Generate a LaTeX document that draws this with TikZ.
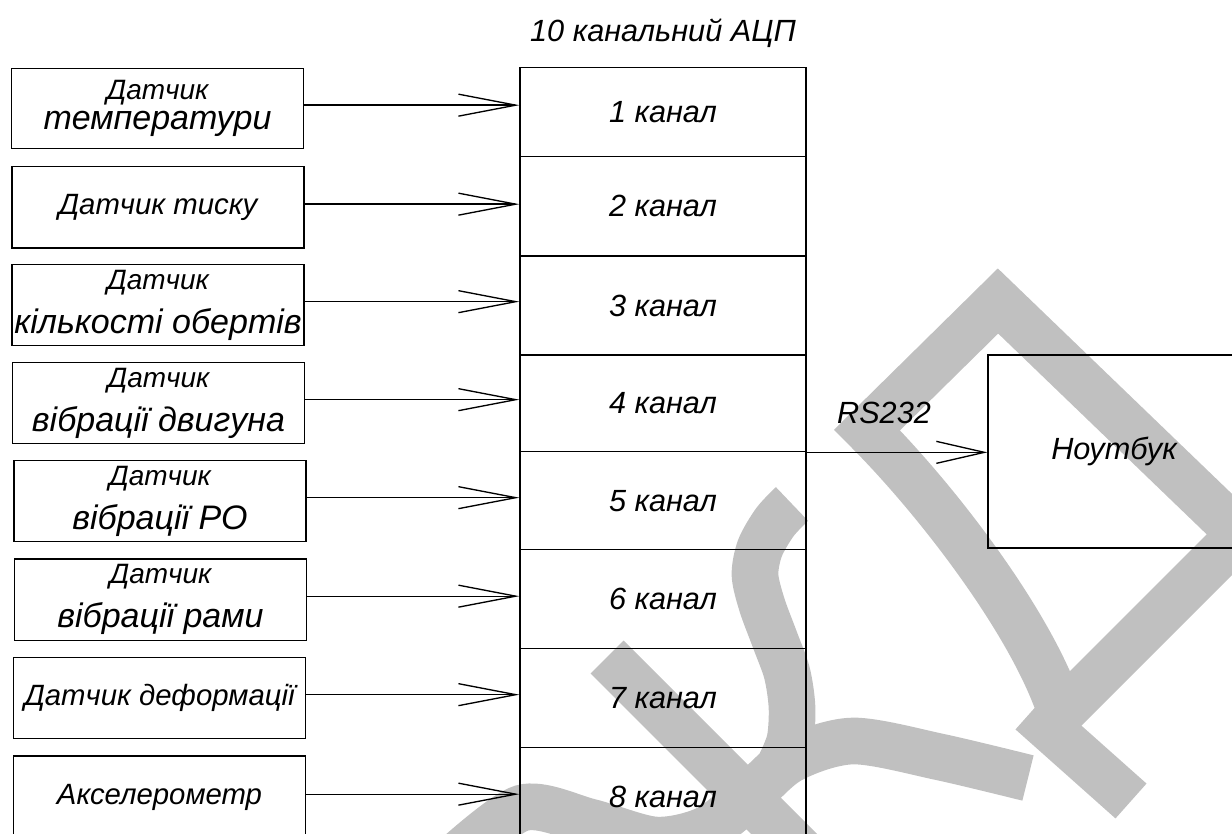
\documentclass[tikz,border=0pt]{standalone}
\usepackage{fontspec}
\setmainfont{Liberation Sans}
\usetikzlibrary{arrows.meta}
\definecolor{wmgray}{RGB}{192,192,192}
% two-line sensor caption: smaller first word, larger second line
\newcommand\sensortwo[3][33pt]{{\fontsize{21}{#1}\selectfont #2}\\{\fontsize{25.5}{#1}\selectfont #3}}
\begin{document}
\begin{tikzpicture}[x=0.75pt,y=-0.75pt,
  every node/.style={font=\itshape\fontsize{23}{24}\selectfont},
  sensor/.style={draw,line width=1pt,minimum width=219pt,minimum height=61pt,
    align=center,inner sep=0pt,font=\itshape\fontsize{22}{33}\selectfont},
  cell/.style={draw,line width=1pt,minimum width=214.5pt,inner sep=0pt},
  feed/.style={line width=1pt,-{Straight Barb[length=43pt,width=16.5pt]}},
  link/.style={line width=1pt,-{Straight Barb[length=36pt,width=16.5pt]}},
  wm/.style={draw=wmgray,line width=35pt}]
\useasboundingbox (0,0) rectangle (1232,834);
\clip (0,0) rectangle (1232,834);

% grey strokes in the background
\draw[wm,line join=miter] (1053,721) -- (1240,534) -- (998,301) -- (867,430)
  .. controls (937,500) and (1035,627) .. (1062,716);
\draw[wm] (1031,712) -- (1131,801);
\draw[wm] plot[smooth] coordinates {(792,504) (775,522) (760,548) (755,575)
  (762,605) (775,640) (787,673) (792,707) (790,740) (780,765)};
\draw[wm] plot[smooth] coordinates {(450,862) (522,808) (590,822) (655,840)
  (705,830) (745,800) (790,760) (853,741) (940,757) (1028,778)};
\draw[wm] (607,657) -- (830,880);

% title
\node (title) at (663,33) {10 канальний АЦП};

% sensors
\node[sensor,minimum height=60pt,font=\itshape\fontsize{22}{23}\selectfont] (s1) at (157.5,108.5)
  {\sensortwo[23pt]{Датчик}{температури}};
\node[sensor] (s2) at (158,207.5) {Датчик тиску};
\node[sensor] (s3) at (158,305) {\sensortwo{Датчик}{кількості обертів}};
\node[sensor] (s4) at (158.5,403) {\sensortwo{Датчик}{вібрації двигуна}};
\node[sensor] (s5) at (160,501) {\sensortwo{Датчик}{вібрації РО}};
\node[sensor] (s6) at (160.5,599.5) {\sensortwo{Датчик}{вібрації рами}};
\node[sensor] (s7) at (159.5,698) {Датчик деформації};
\node[sensor,minimum height=62.25pt] (s8) at (159.5,797.5) {Акселерометр};

% ADC channels
\node[cell,minimum height=66.75pt] (c1) at (663,112.2) {1 канал};
\node[cell,minimum height=74.5pt] (c2) at (663,206.35) {2 канал};
\node[cell,minimum height=74.25pt] (c3) at (663,305.5) {3 канал};
\node[cell,minimum height=72.5pt] (c4) at (663,403.35) {4 канал};
\node[cell,minimum height=73.35pt] (c5) at (663,500.6) {5 канал};
\node[cell,minimum height=74.1pt] (c6) at (663,598.9) {6 канал};
\node[cell,minimum height=74.25pt] (c7) at (663,697.8) {7 канал};
\node[cell,minimum height=74pt] (c8) at (663,796.65) {8 канал};

% laptop
\node[draw,line width=1pt,minimum width=189pt,minimum height=144.75pt,inner sep=0pt]
  (nb) at (1114,451.5) {Ноутбук};
\node (rs) at (884,413) {RS232};

% connections
\foreach \s/\c in {s1/c1,s2/c2,s3/c3,s4/c4,s5/c5,s6/c6,s7/c7,s8/c8}
  \draw[feed] ([yshift=2.5pt]\s.east) -- ([yshift=2.5pt]\s.east -| \c.west);
\draw[link] (c4.south east) -- (c4.south east -| nb.west);
\end{tikzpicture}
\end{document}
